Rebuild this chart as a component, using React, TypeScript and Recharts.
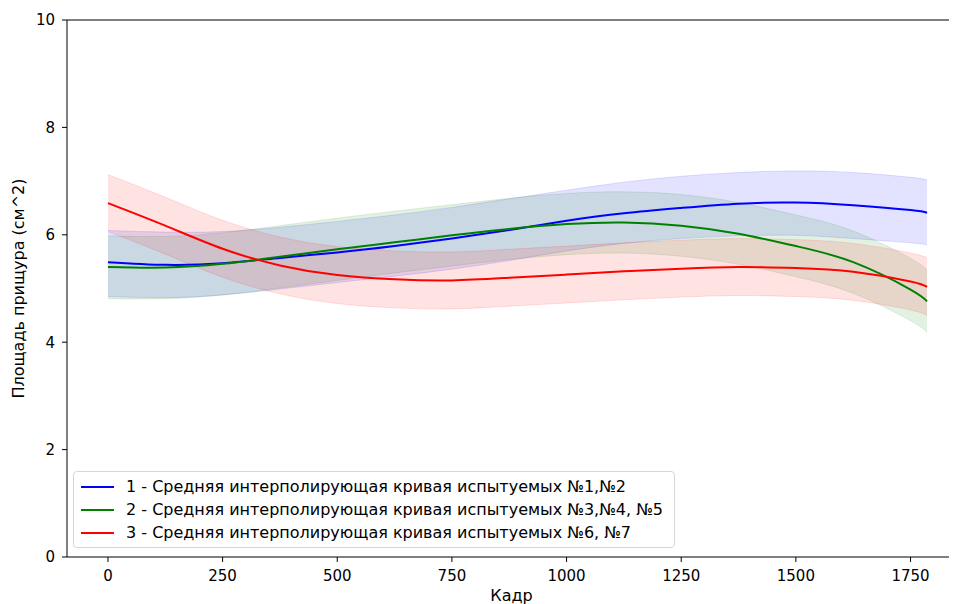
import React from 'react';
import { ComposedChart, Area, Line, XAxis, YAxis, Legend, ReferenceLine } from 'recharts';

const frames = [0, 125, 250, 375, 500, 625, 750, 875, 1000, 1125, 1250, 1375, 1500, 1625, 1750, 1786];

// 1 - subjects #1, #2
const blueMean = [5.49, 5.44, 5.47, 5.57, 5.67, 5.79, 5.93, 6.09, 6.26, 6.4, 6.5, 6.58, 6.6, 6.55, 6.46, 6.41];
const blueLow = [4.85, 4.83, 4.88, 4.99, 5.11, 5.23, 5.36, 5.52, 5.7, 5.84, 5.93, 5.98, 5.99, 5.93, 5.85, 5.81];
const blueHigh = [6.08, 6.05, 6.06, 6.14, 6.25, 6.37, 6.51, 6.67, 6.83, 6.98, 7.09, 7.16, 7.19, 7.16, 7.07, 7.02];

// 2 - subjects #3, #4, #5
const greenMean = [5.4, 5.39, 5.46, 5.59, 5.73, 5.86, 5.99, 6.11, 6.2, 6.23, 6.17, 6.02, 5.79, 5.49, 4.98, 4.76];
const greenLow = [4.81, 4.81, 4.88, 5.01, 5.15, 5.29, 5.42, 5.54, 5.63, 5.66, 5.6, 5.45, 5.22, 4.91, 4.4, 4.18];
const greenHigh = [5.98, 5.97, 6.04, 6.17, 6.31, 6.44, 6.56, 6.68, 6.77, 6.8, 6.75, 6.6, 6.37, 6.07, 5.56, 5.34];

// 3 - subjects #6, #7
const redMean = [6.59, 6.17, 5.74, 5.43, 5.25, 5.17, 5.15, 5.2, 5.26, 5.32, 5.37, 5.4, 5.38, 5.31, 5.13, 5.03];
const redLow = [6.06, 5.64, 5.21, 4.9, 4.72, 4.64, 4.62, 4.67, 4.73, 4.79, 4.84, 4.87, 4.85, 4.78, 4.6, 4.49];
const redHigh = [7.12, 6.7, 6.27, 5.96, 5.78, 5.7, 5.68, 5.73, 5.79, 5.85, 5.9, 5.93, 5.91, 5.84, 5.66, 5.57];

const xTicks = [0, 250, 500, 750, 1000, 1250, 1500, 1750];
const yTicks = [0, 2, 4, 6, 8, 10];

const legendItems = [
  { label: '1 - Средняя интерполирующая кривая испытуемых №1,№2', color: '#0000ff' },
  { label: '2 - Средняя интерполирующая кривая испытуемых №3,№4, №5', color: '#008000' },
  { label: '3 - Средняя интерполирующая кривая испытуемых №6, №7', color: '#ff0000' },
];

const FONT = '"DejaVu Sans", sans-serif';

const data = frames.map((x, i) => ({
  x,
  blue: blueMean[i],
  blueBand: [blueLow[i], blueHigh[i]],
  green: greenMean[i],
  greenBand: [greenLow[i], greenHigh[i]],
  red: redMean[i],
  redBand: [redLow[i], redHigh[i]],
}));

const LegendBox = () => (
  <div
    style={{
      boxSizing: 'border-box',
      width: 602,
      height: 77,
      border: '1px solid #d6d6d6',
      borderRadius: 4,
      background: 'rgba(255,255,255,0.8)',
      padding: '3px 0 3px 7px',
      fontFamily: FONT,
      fontSize: 16,
      color: '#000',
    }}
  >
    {legendItems.map((item) => (
      <div key={item.label} style={{ display: 'flex', alignItems: 'center', height: 23 }}>
        <div style={{ width: 33, height: 2, background: item.color, marginRight: 12 }} />
        <span style={{ whiteSpace: 'nowrap' }}>{item.label}</span>
      </div>
    ))}
  </div>
);

export default function App() {
  return (
    <div style={{ width: 949, height: 596, overflow: 'hidden', position: 'relative' }}>
      <ComposedChart
        width={960}
        height={600}
        data={data}
        margin={{ top: 12, right: 0, left: 0, bottom: 0 }}
        style={{ fontFamily: FONT }}
      >
        <XAxis
          dataKey="x"
          type="number"
          domain={[-89.3, 1875.3]}
          ticks={xTicks}
          allowDataOverflow
          height={51}
          tickSize={5}
          tickMargin={8}
          stroke="#000"
          tick={{ fill: '#000', fontSize: 15 }}
          label={{
            content: ({ viewBox }: any) => (
              <text x={viewBox.x + viewBox.width / 2 - 6} y={593} textAnchor="middle" fontSize={16} fill="#000">
                Кадр
              </text>
            ),
          }}
        />
        <YAxis
          type="number"
          domain={[0, 10]}
          ticks={yTicks}
          allowDataOverflow
          width={59}
          tickSize={5}
          tickMargin={7}
          stroke="#000"
          tick={{ fill: '#000', fontSize: 15 }}
          label={{
            content: ({ viewBox }: any) => {
              const cx = 10;
              const cy = viewBox.y + viewBox.height / 2;
              return (
                <text
                  x={cx}
                  y={cy}
                  transform={`rotate(-90, ${cx}, ${cy})`}
                  textAnchor="middle"
                  dominantBaseline="central"
                  fontSize={16}
                  fill="#000"
                >
                  Площадь прищура (см^2)
                </text>
              );
            },
          }}
        />
        <ReferenceLine y={10} stroke="#000" ifOverflow="extendDomain" />

        <Area type="natural" dataKey="blueBand" stroke="#0000ff" strokeOpacity={0.12} fill="#0000ff" fillOpacity={0.11} isAnimationActive={false} legendType="none" />
        <Area type="natural" dataKey="greenBand" stroke="#008000" strokeOpacity={0.12} fill="#008000" fillOpacity={0.11} isAnimationActive={false} legendType="none" />
        <Area type="natural" dataKey="redBand" stroke="#ff0000" strokeOpacity={0.12} fill="#ff0000" fillOpacity={0.11} isAnimationActive={false} legendType="none" />

        <Line type="natural" dataKey="blue" stroke="#0000ff" strokeWidth={2} dot={false} isAnimationActive={false} />
        <Line type="natural" dataKey="green" stroke="#008000" strokeWidth={2} dot={false} isAnimationActive={false} />
        <Line type="natural" dataKey="red" stroke="#ff0000" strokeWidth={2} dot={false} isAnimationActive={false} />

        <Legend
          layout="vertical"
          align="center"
          verticalAlign="middle"
          content={() => <LegendBox />}
          wrapperStyle={{ left: 65, top: 463, width: 'auto', height: 'auto' }}
        />
      </ComposedChart>
    </div>
  );
}
